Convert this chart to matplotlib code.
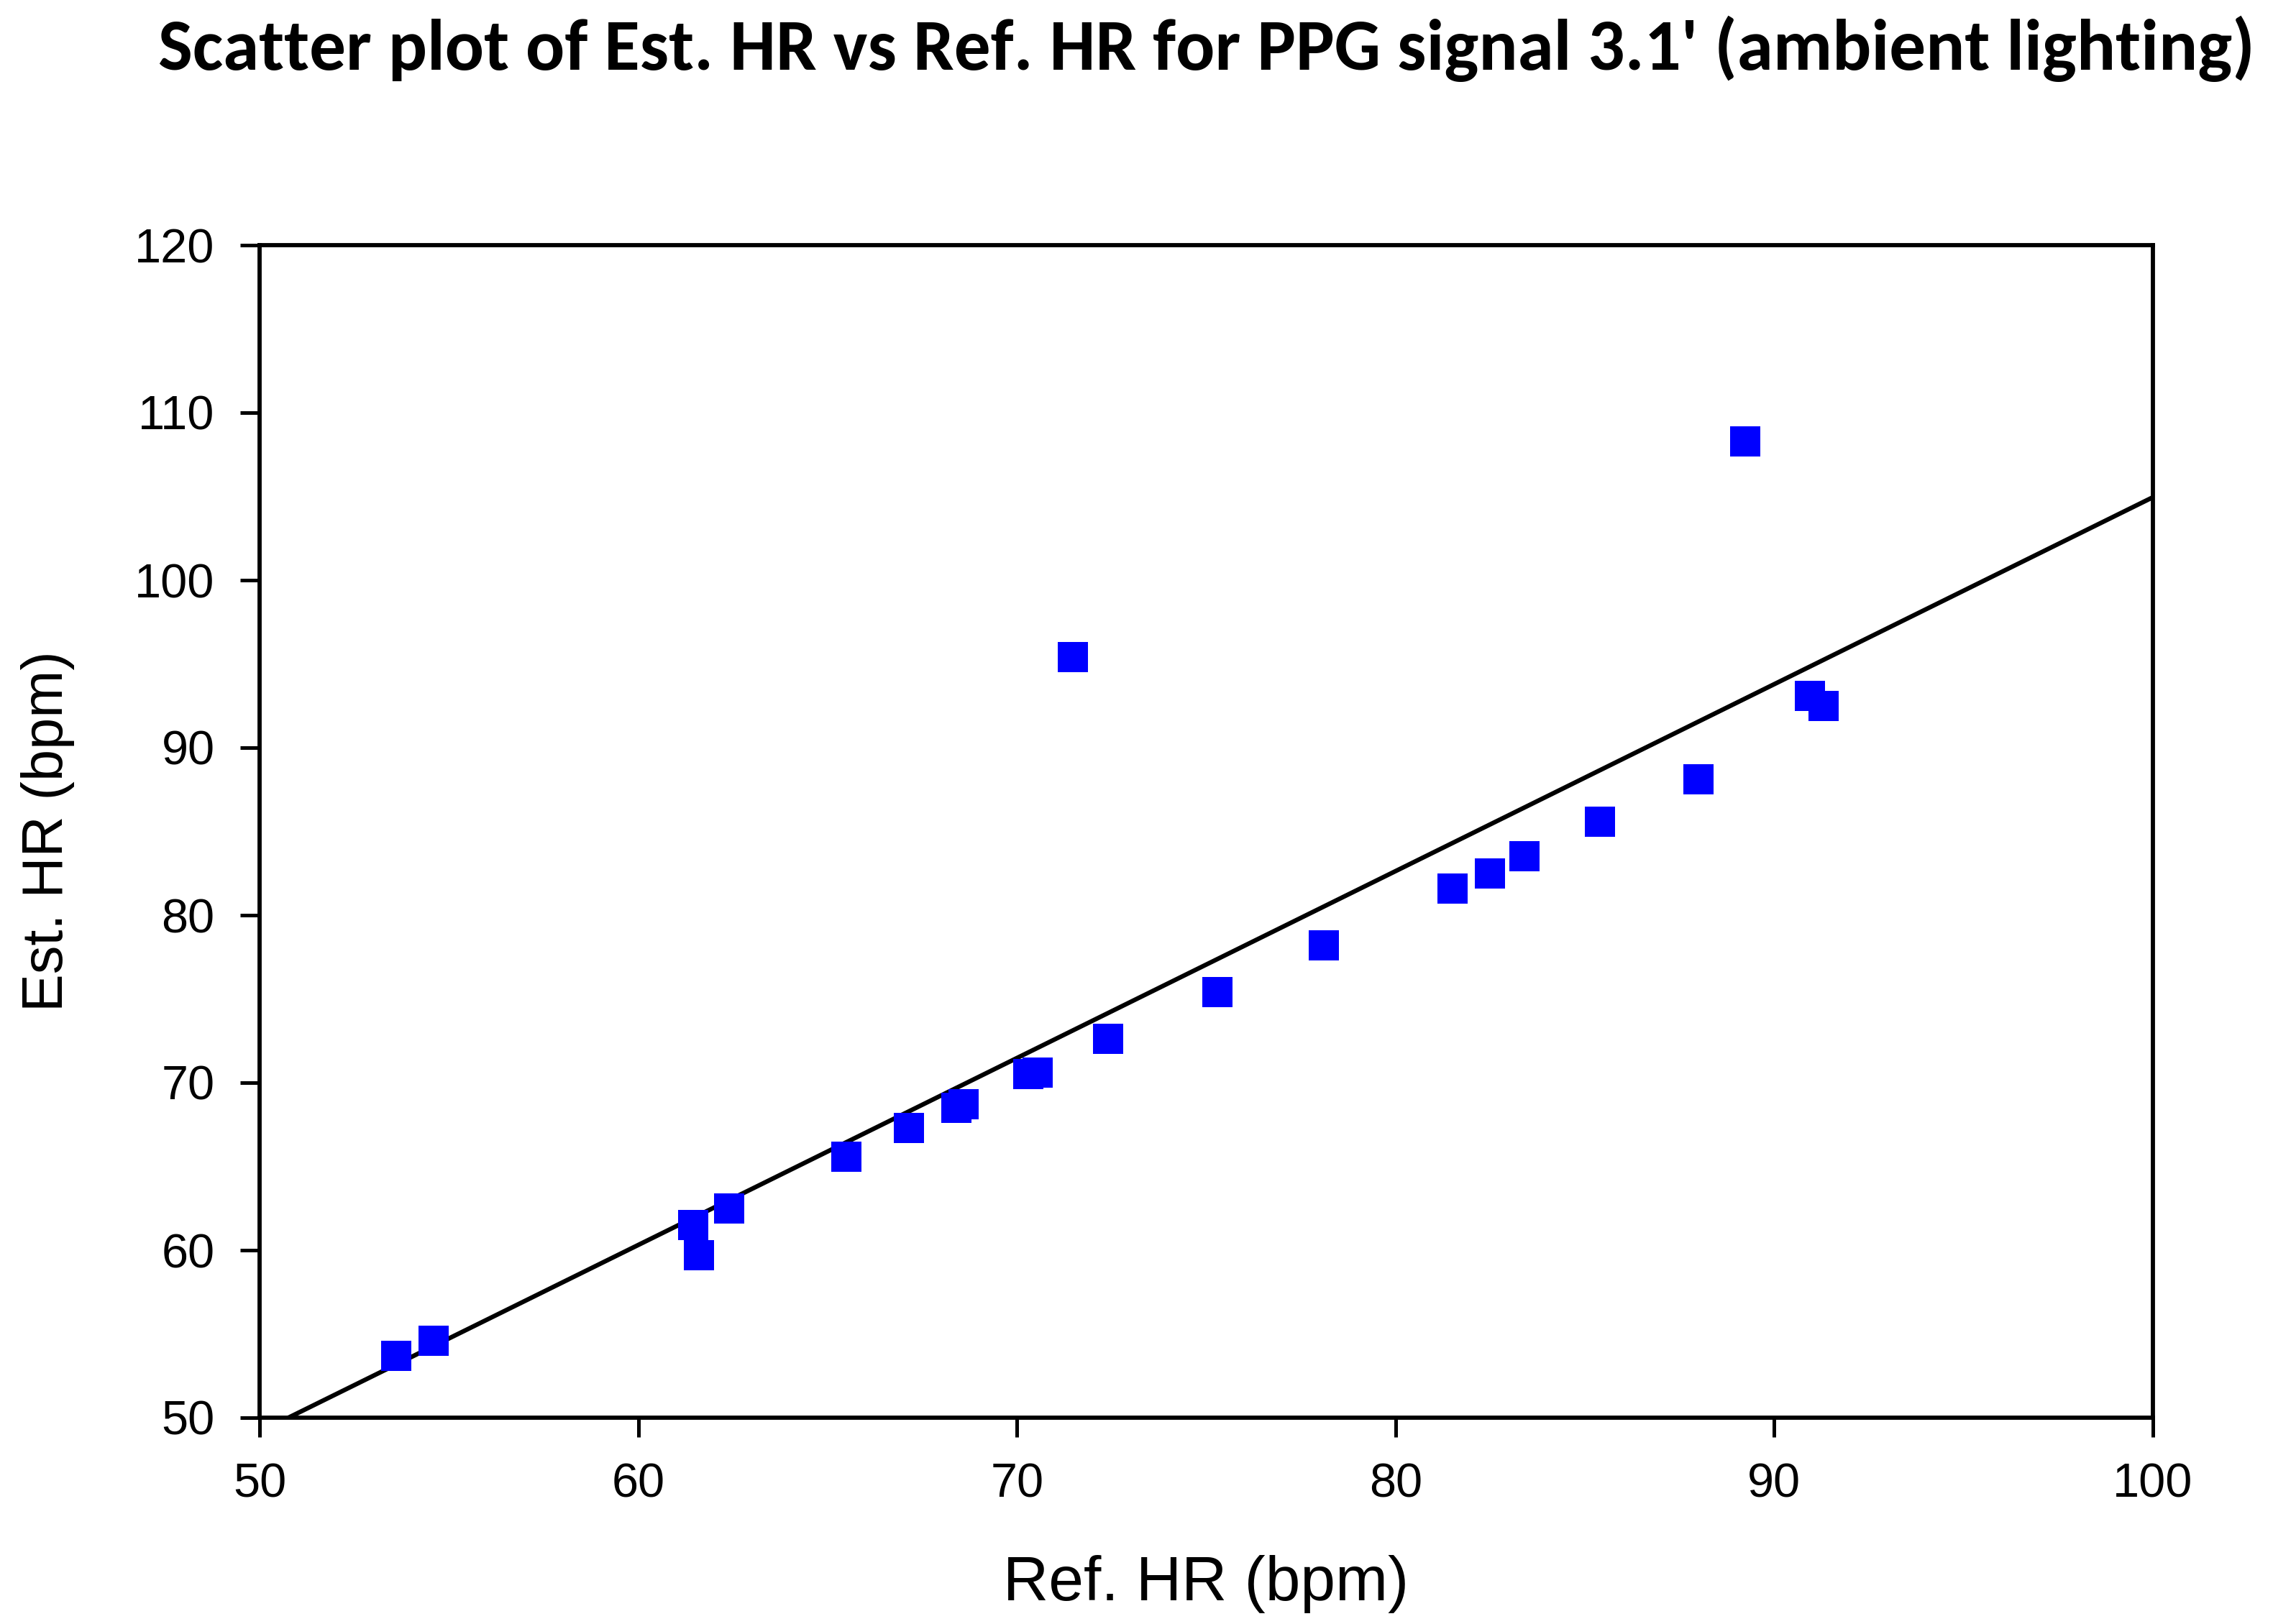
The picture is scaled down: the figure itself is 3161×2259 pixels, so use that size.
import numpy as np
import matplotlib
matplotlib.use("Agg")
from matplotlib import pyplot as plt

# values
ref_hr = [53.6, 54.6, 61.45, 61.6, 62.4, 65.5, 67.15, 68.4, 68.6, 70.3, 70.55,
          71.48, 72.4, 75.3, 78.1, 81.5, 82.5, 83.4, 85.4, 88.0, 89.23, 90.95, 91.3]
est_hr = [53.7, 54.6, 61.5, 59.7, 62.5, 65.6, 67.3, 68.5, 68.7, 70.5, 70.6,
          95.4, 72.6, 75.4, 78.2, 81.6, 82.5, 83.5, 85.6, 88.1, 108.28, 93.1, 92.5]
fit_slope = 1.116
fit_intercept = -6.65
x_ticks = [50, 60, 70, 80, 90, 100]
y_ticks = [50, 60, 70, 80, 90, 100, 110, 120]

title = "Scatter plot of Est. HR vs Ref. HR for PPG signal 3.1' (ambient lighting)"

plt.rcParams['font.family'] = ['Liberation Sans', 'DejaVu Sans']

fig = plt.figure(figsize=(3161 / 300, 2259 / 300), dpi=300)
ax = fig.add_axes([361 / 3161, 1 - 1972 / 2259, (2994 - 361) / 3161, (1972 - 341) / 2259])

fit_x = np.array([50, 100])
ax.plot(fit_x, fit_slope * fit_x + fit_intercept, color='black', lw=1.5, zorder=2)
ax.plot(ref_hr, est_hr, linestyle='none', marker='s', markersize=10,
        color='#0000ff', markeredgewidth=0, zorder=3)

ax.set_xlim(50, 100)
ax.set_ylim(50, 120)
ax.set_xticks(x_ticks)
ax.set_yticks(y_ticks)
ax.tick_params(axis='both', direction='out', length=6.5, width=1.2, labelsize=16, pad=8.5,
               top=False, right=False)
for sp in ax.spines.values():
    sp.set_linewidth(1.4)

ax.set_xlabel("Ref. HR (bpm)", fontsize=21, labelpad=16)
ax.set_ylabel("Est. HR (bpm)", fontsize=19, labelpad=20)

t = fig.text((361 + 2994) / 2 / 3161, 1 - 22 / 2259, title, ha='center', va='top',
             fontsize=20, fontweight='bold', family=['Carlito', 'Lato', 'DejaVu Sans'])
# fit title width to the reference
fig.canvas.draw()
w = t.get_window_extent().width
t.set_fontsize(20 * 2919 / w)

fig.savefig("out.png", dpi=300)
